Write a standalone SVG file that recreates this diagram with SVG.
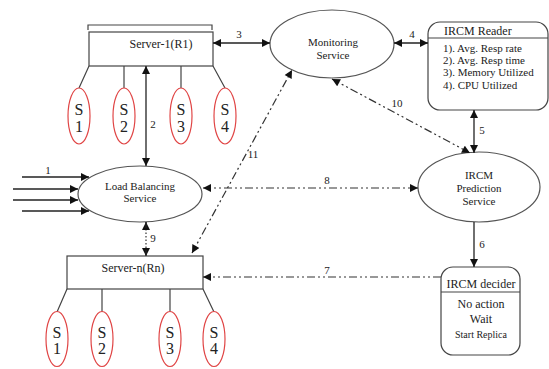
<svg xmlns="http://www.w3.org/2000/svg" width="549" height="369" viewBox="0 0 549 369" font-family="'Liberation Serif', 'DejaVu Serif', 'Times New Roman', serif">
<style>
text{font-family:'Liberation Serif','DejaVu Serif','Times New Roman',serif;fill:#222}
.t12{font-size:12px}
.t11{font-size:11px}
.t10{font-size:10px}
.s{font-size:16px;text-anchor:middle}
.c{text-anchor:middle}
.box{fill:#fff;stroke:#444;stroke-width:1.2}
.ell{fill:#fff;stroke:#555;stroke-width:1.2}
.sell{fill:#fff;stroke:#e04545;stroke-width:1.2}
.ln{stroke:#444;stroke-width:1.2;fill:none}
.ar{stroke:#222;stroke-width:1.3;fill:none}
.dd{stroke:#333;stroke-width:1.2;fill:none;stroke-dasharray:8,3,2,3,2,3}
.dot{stroke:#333;stroke-width:1.2;fill:none;stroke-dasharray:1.5,2}
</style>
<defs>
<marker id="ah" viewBox="0 0 10 10" refX="10" refY="5" markerWidth="9" markerHeight="8" markerUnits="userSpaceOnUse" orient="auto-start-reverse">
<path d="M0,0 L10,5 L0,10 z" fill="#111"/>
</marker>
</defs>
<rect width="549" height="369" fill="#fff"/>

<g id="server1">
<path class="ln" d="M88,30 V25 H212 V30"/>
<rect class="box" x="89" y="32" width="124" height="34"/>
<text class="t12 c" x="161" y="48">Server-1(R1)</text>
<path class="ln" d="M89,66 L79,88 M124,66 V88 M181,66 V88 M213,66 L225,88"/>
</g>
<g id="s1-1"><ellipse class="sell" cx="79" cy="116" rx="11" ry="28"/><text class="s" x="79" y="115">S</text><text class="s" x="79" y="132">1</text></g>
<g id="s1-2"><ellipse class="sell" cx="124" cy="116" rx="11" ry="28"/><text class="s" x="124" y="115">S</text><text class="s" x="124" y="132">2</text></g>
<g id="s1-3"><ellipse class="sell" cx="181" cy="116" rx="11" ry="28"/><text class="s" x="181" y="115">S</text><text class="s" x="181" y="132">3</text></g>
<g id="s1-4"><ellipse class="sell" cx="225" cy="116" rx="11" ry="28"/><text class="s" x="225" y="115">S</text><text class="s" x="225" y="132">4</text></g>

<g id="servern">
<rect class="box" x="67" y="256" width="136" height="33"/>
<text class="t12 c" x="133" y="272">Server-n(Rn)</text>
<path class="ln" d="M67,289 L57,312 M102,289 V312 M170,289 V312 M203,289 L214,312"/>
</g>
<g id="sn-1"><ellipse class="sell" cx="57" cy="339" rx="11" ry="27.5"/><text class="s" x="57" y="338">S</text><text class="s" x="57" y="354">1</text></g>
<g id="sn-2"><ellipse class="sell" cx="102" cy="339" rx="11" ry="27.5"/><text class="s" x="102" y="338">S</text><text class="s" x="102" y="354">2</text></g>
<g id="sn-3"><ellipse class="sell" cx="170" cy="339" rx="11" ry="27.5"/><text class="s" x="170" y="338">S</text><text class="s" x="170" y="354">3</text></g>
<g id="sn-4"><ellipse class="sell" cx="214" cy="339" rx="11" ry="27.5"/><text class="s" x="214" y="338">S</text><text class="s" x="214" y="354">4</text></g>

<g id="monitoring">
<ellipse class="ell" cx="332" cy="44" rx="62" ry="34"/>
<text class="t11 c" x="333" y="46">Monitoring</text>
<text class="t11 c" x="333" y="59">Service</text>
</g>

<g id="loadbalancing">
<ellipse class="ell" cx="140" cy="194" rx="62" ry="28"/>
<text class="t11 c" x="140" y="190">Load Balancing</text>
<text class="t11 c" x="140" y="202">Service</text>
</g>

<g id="prediction">
<ellipse class="ell" cx="479" cy="187" rx="61" ry="35"/>
<text class="t11 c" x="479" y="179">IRCM</text>
<text class="t11 c" x="479" y="192">Prediction</text>
<text class="t11 c" x="479" y="205">Service</text>
</g>

<g id="reader">
<rect class="box" x="428" y="22" width="120" height="88" rx="12"/>
<line class="ln" x1="428" y1="38" x2="548" y2="38"/>
<text class="t12" x="444" y="35">IRCM Reader</text>
<text class="t11" x="443" y="52">1). Avg. Resp rate</text>
<text class="t11" x="443" y="64">2). Avg. Resp time</text>
<text class="t11" x="443" y="76">3). Memory Utilized</text>
<text class="t11" x="443" y="89">4). CPU Utilized</text>
</g>

<g id="decider">
<rect class="box" x="441" y="267" width="79" height="88" rx="12"/>
<line class="ln" x1="441" y1="292" x2="520" y2="292"/>
<text class="t12 c" x="481" y="288">IRCM decider</text>
<text class="t12 c" x="481" y="308">No action</text>
<text class="t12 c" x="481" y="323">Wait</text>
<text class="t10 c" x="481" y="338">Start Replica</text>
</g>

<g id="connectors">
<line class="ar" x1="22" y1="177" x2="89" y2="177" marker-end="url(#ah)"/>
<line class="ar" x1="13" y1="189" x2="78" y2="189" marker-end="url(#ah)"/>
<line class="ar" x1="13" y1="200" x2="78" y2="200" marker-end="url(#ah)"/>
<line class="ar" x1="22" y1="211" x2="89" y2="211" marker-end="url(#ah)"/>
<line class="ar" x1="146" y1="66" x2="146" y2="166" marker-start="url(#ah)" marker-end="url(#ah)"/>
<line class="ar" x1="213" y1="43" x2="270" y2="43" marker-start="url(#ah)" marker-end="url(#ah)"/>
<line class="ar" x1="394" y1="43" x2="428" y2="43" marker-start="url(#ah)" marker-end="url(#ah)"/>
<line class="ar" x1="474" y1="110" x2="474" y2="153" marker-start="url(#ah)" marker-end="url(#ah)"/>
<line class="ar" x1="474" y1="222" x2="474" y2="267" marker-end="url(#ah)"/>
<line class="dd" x1="441" y1="277" x2="203" y2="277" marker-end="url(#ah)"/>
<line class="dd" x1="203" y1="188" x2="418" y2="188" marker-start="url(#ah)" marker-end="url(#ah)"/>
<line class="dot" x1="146" y1="222" x2="146" y2="256" marker-start="url(#ah)" marker-end="url(#ah)"/>
<line class="ar" x1="146" y1="222" x2="146" y2="228"/>
<line class="ar" x1="146" y1="250" x2="146" y2="256"/>
<line class="dd" x1="332" y1="79" x2="470" y2="153" marker-start="url(#ah)" marker-end="url(#ah)"/>
<line class="dd" x1="192" y1="253" x2="292" y2="70" marker-start="url(#ah)" marker-end="url(#ah)"/>
<text class="t11 c" x="48" y="174">1</text>
<text class="t11 c" x="153" y="128">2</text>
<text class="t11 c" x="239" y="38">3</text>
<text class="t11 c" x="412" y="38">4</text>
<text class="t11 c" x="482" y="134">5</text>
<text class="t11 c" x="482" y="248">6</text>
<text class="t11 c" x="327" y="274">7</text>
<text class="t11 c" x="327" y="184">8</text>
<text class="t11 c" x="153" y="242">9</text>
<text class="t11 c" x="397" y="107">10</text>
<text class="t11 c" x="253" y="158">11</text>
</g>
</svg>
